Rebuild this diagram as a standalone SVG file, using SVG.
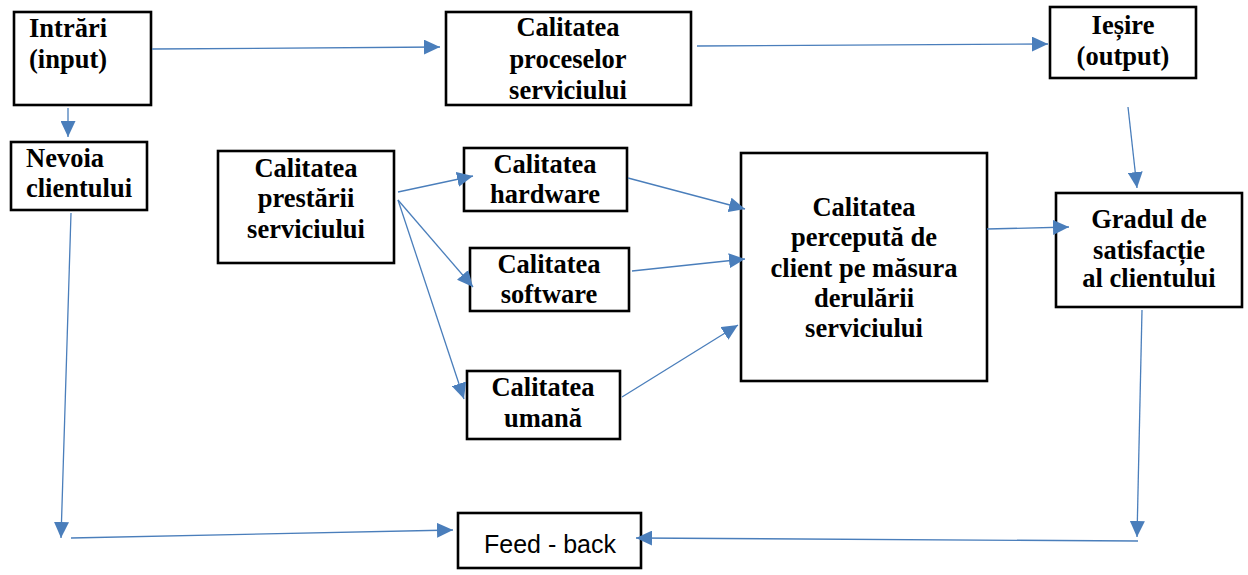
<svg xmlns="http://www.w3.org/2000/svg" width="1248" height="575" viewBox="0 0 1248 575">
<style>
.box{fill:#fff;stroke:#000;stroke-width:2.6}
.t{font-family:"Liberation Serif","Times New Roman",serif;font-weight:bold;font-size:26.5px;fill:#000}
.c{text-anchor:middle}
.fb{font-family:"Liberation Sans",Arial,sans-serif;font-size:25px;fill:#000;text-anchor:middle}
.ln{stroke:#4a7ebb;stroke-width:1.3;fill:none;marker-end:url(#ah)}
</style>
<defs>
<marker id="ah" markerUnits="userSpaceOnUse" markerWidth="16" markerHeight="15" refX="16" refY="7.5" orient="auto">
<path d="M0,0 L16,7.5 L0,15 z" fill="#4a7ebb"/>
</marker>
</defs>
<rect width="1248" height="575" fill="#fff"/>
<g id="intrari">
<rect class="box" x="14" y="12" width="137" height="93"/>
<text class="t" x="29" y="37">Intrări</text>
<text class="t" x="29" y="68">(input)</text>
</g>
<g id="procese">
<rect class="box" x="446" y="12" width="245" height="93"/>
<text class="t c" x="568" y="36">Calitatea</text>
<text class="t c" x="568" y="68">proceselor</text>
<text class="t c" x="568" y="99">serviciului</text>
</g>
<g id="iesire">
<rect class="box" x="1050" y="7" width="146" height="71"/>
<text class="t c" x="1123" y="34">Ieșire</text>
<text class="t c" x="1123" y="65">(output)</text>
</g>
<g id="nevoia">
<rect class="box" x="11" y="142" width="136" height="68"/>
<text class="t" x="26" y="167">Nevoia</text>
<text class="t" x="26" y="197">clientului</text>
</g>
<g id="prestare">
<rect class="box" x="218" y="151" width="176" height="112"/>
<text class="t c" x="306" y="177">Calitatea</text>
<text class="t c" x="306" y="207">prestării</text>
<text class="t c" x="306" y="238">serviciului</text>
</g>
<g id="hardware">
<rect class="box" x="464" y="148" width="163" height="63"/>
<text class="t c" x="545" y="173">Calitatea</text>
<text class="t c" x="545" y="203">hardware</text>
</g>
<g id="software">
<rect class="box" x="470" y="248" width="159" height="63"/>
<text class="t c" x="549" y="273">Calitatea</text>
<text class="t c" x="549" y="303">software</text>
</g>
<g id="umana">
<rect class="box" x="467" y="371" width="153" height="68"/>
<text class="t c" x="543" y="396">Calitatea</text>
<text class="t c" x="543" y="427">umană</text>
</g>
<g id="perceputa">
<rect class="box" x="741" y="153" width="246" height="228"/>
<text class="t c" x="864" y="216">Calitatea</text>
<text class="t c" x="864" y="246">percepută de</text>
<text class="t c" x="864" y="277">client pe măsura</text>
<text class="t c" x="864" y="307">derulării</text>
<text class="t c" x="864" y="337">serviciului</text>
</g>
<g id="gradul">
<rect class="box" x="1056" y="193" width="186" height="114"/>
<text class="t c" x="1149" y="228">Gradul de</text>
<text class="t c" x="1149" y="259">satisfacție</text>
<text class="t c" x="1149" y="287">al clientului</text>
</g>
<g id="feedback">
<rect class="box" x="458" y="513" width="183" height="55"/>
<text class="fb" x="550" y="553">Feed - back</text>
</g>
<g id="connectors">
<line class="ln" x1="152" y1="49" x2="440" y2="47"/>
<line class="ln" x1="697" y1="46" x2="1048" y2="44"/>
<line class="ln" x1="68" y1="108" x2="68" y2="137"/>
<line class="ln" x1="1128" y1="107" x2="1137" y2="188"/>
<line class="ln" x1="398" y1="192" x2="473" y2="176"/>
<line class="ln" x1="398" y1="200" x2="473" y2="287"/>
<line class="ln" x1="398" y1="200" x2="464" y2="399"/>
<line class="ln" x1="628" y1="178" x2="745" y2="209"/>
<line class="ln" x1="632" y1="271" x2="745" y2="259"/>
<line class="ln" x1="622" y1="397" x2="738" y2="325"/>
<line class="ln" x1="987" y1="229" x2="1069" y2="227"/>
<line class="ln" x1="71" y1="213" x2="61" y2="538"/>
<line class="ln" x1="71" y1="538" x2="453" y2="530"/>
<line class="ln" x1="1142" y1="310" x2="1137" y2="537"/>
<line class="ln" x1="1138" y1="541" x2="636" y2="538"/>
</g>
</svg>
